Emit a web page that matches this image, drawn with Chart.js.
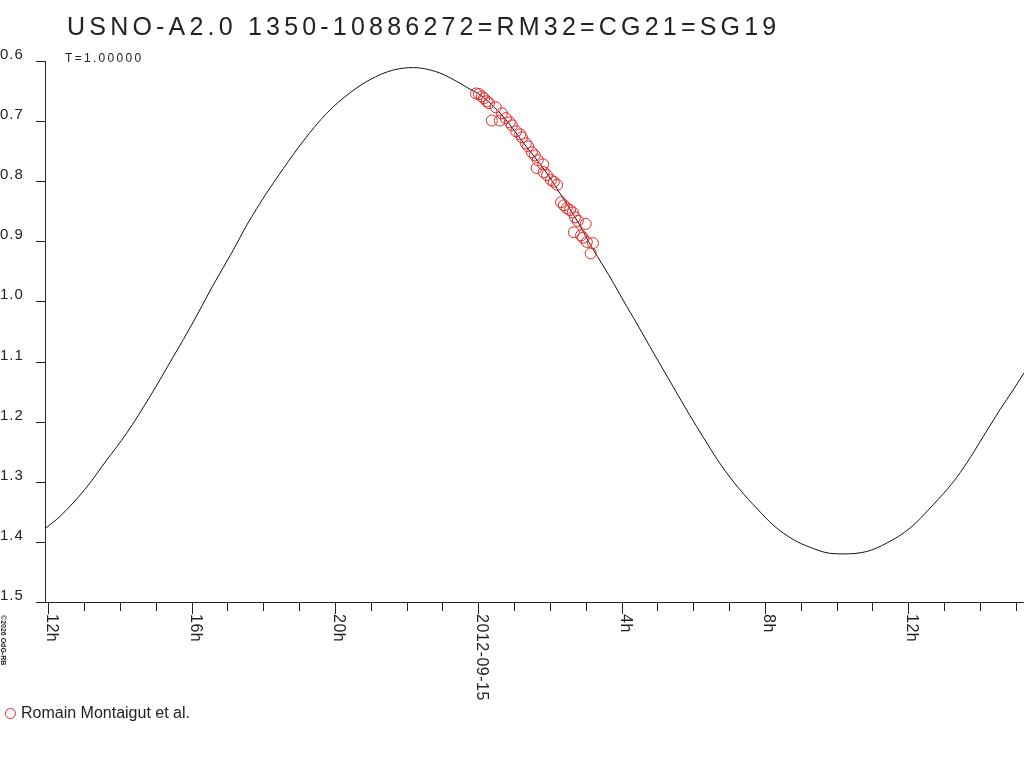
<!DOCTYPE html>
<html>
<head>
<meta charset="utf-8">
<script src="https://cdn.jsdelivr.net/npm/chart.js@4.4.0/dist/chart.umd.min.js"></script>
<style>
html,body{margin:0;padding:0;background:#fff;}
#wrap{width:1024px;height:768px;position:relative;}
</style>
</head>
<body>
<div id="wrap"><canvas id="c" width="1024" height="768"></canvas></div>
<script>
// ---- data (hours relative to 2012-09-15 00:00 UT, magnitude) ----
const titleText = "USNO-A2.0 1350-10886272=RM32=CG21=SG19";
const subtitleText = "T=1.00000";
const legendLabel = "Romain Montaigut et al.";
const copyrightText = "\u00a92026 OdG-RB";

const curveHours = [-12.07,-11.68,-10.98,-10.37,-9.81,-9.16,-8.51,-7.95,-7.40,-6.84,-6.46,-5.91,-5.44,-4.88,-4.23,-3.58,-3.02,-2.37,-1.81,-1.58,-1.07,-0.51,-0.14,0.00,0.66,1.35,1.81,2.28,2.81,3.16,3.49,3.77,4.14,4.33,4.79,5.07,5.44,5.91,6.28,6.75,7.30,7.77,8.23,8.79,9.26,9.81,10.19,10.84,11.40,12.05,12.70,13.26,13.63,14.09,14.56,14.93,15.23];
const curveMag = [1.377,1.358,1.313,1.264,1.219,1.158,1.092,1.034,0.973,0.915,0.873,0.820,0.779,0.733,0.687,0.653,0.631,0.615,0.611,0.612,0.620,0.637,0.650,0.654,0.690,0.743,0.778,0.820,0.871,0.909,0.941,0.969,1.008,1.027,1.075,1.104,1.142,1.190,1.226,1.270,1.313,1.344,1.372,1.396,1.409,1.419,1.420,1.416,1.402,1.377,1.338,1.300,1.269,1.225,1.180,1.147,1.119];

const obsHours = [-0.06,0.02,0.10,0.16,0.24,0.30,0.38,0.49,0.60,0.66,0.77,0.88,0.94,1.06,1.17,1.22,1.33,1.39,1.50,1.58,1.66,1.63,1.81,1.83,1.92,2.03,2.11,2.20,2.31,2.39,2.47,2.56,2.64,2.70,2.78,3.00,2.67,2.87,2.92,3.03,3.20,3.14];
const obsMag = [0.654,0.655,0.659,0.662,0.667,0.670,0.699,0.677,0.699,0.687,0.695,0.702,0.707,0.717,0.722,0.727,0.737,0.742,0.752,0.757,0.765,0.778,0.772,0.785,0.790,0.798,0.801,0.806,0.835,0.840,0.845,0.848,0.852,0.860,0.866,0.871,0.885,0.890,0.894,0.901,0.903,0.920];

const xMajorTicks = [-12,-8,-4,0,4,8,12];
const xMajorLabels = ["12h","16h","20h","2012-09-15","4h","8h","12h"];
const xMinorFirst = -12, xMinorLast = 15;
const yTicks = [0.6,0.7,0.8,0.9,1.0,1.1,1.2,1.3,1.4,1.5];
const yTickLabels = ["0.6","0.7","0.8","0.9","1.0","1.1","1.2","1.3","1.4","1.5"];

const xMin = -12.09, xMax = 15.23, yMin = 0.6, yMax = 1.5;

const FONT = '"Liberation Sans", Arial, sans-serif';
const AXIS = '#222';
const RED = 'rgb(232,40,40)';

const curveData = curveHours.map((h,i)=>({x:h,y:curveMag[i]}));
const obsData = obsHours.map((h,i)=>({x:h,y:obsMag[i]}));

const decor = {
  id:'decor',
  afterDraw(chart){
    const ctx = chart.ctx, xs = chart.scales.x, ys = chart.scales.y;
    const ca = chart.chartArea;
    ctx.save();
    ctx.strokeStyle = AXIS; ctx.lineWidth = 1;
    // axis lines
    ctx.beginPath();
    ctx.moveTo(36, ca.bottom+0.5); ctx.lineTo(1024, ca.bottom+0.5);
    ctx.moveTo(ca.left+0.5, ca.top); ctx.lineTo(ca.left+0.5, ca.bottom);
    ctx.stroke();
    // y ticks
    ctx.beginPath();
    yTicks.forEach(v=>{
      const py = Math.round(ys.getPixelForValue(v))+0.5;
      ctx.moveTo(36, py); ctx.lineTo(ca.left, py);
    });
    // x ticks (hourly, longer at labelled hours)
    for(let h=xMinorFirst; h<=xMinorLast; h++){
      const px = Math.round(xs.getPixelForValue(h))+0.5;
      const major = xMajorTicks.indexOf(h) >= 0;
      ctx.moveTo(px, ca.bottom); ctx.lineTo(px, ca.bottom + (major?12:9));
    }
    ctx.stroke();
    ctx.fillStyle = '#222';
    // y labels
    ctx.font = '15px ' + FONT;
    ctx.letterSpacing = '1px';
    ctx.textAlign = 'left'; ctx.textBaseline = 'alphabetic';
    yTicks.forEach((v,i)=>{
      const py = ys.getPixelForValue(v);
      ctx.fillText(yTickLabels[i], 0, py - 2);
    });
    // x labels rotated clockwise
    ctx.font = '16px ' + FONT;
    ctx.letterSpacing = '0.5px';
    xMajorTicks.forEach((h,i)=>{
      const px = Math.round(xs.getPixelForValue(h));
      ctx.save();
      ctx.translate(px - 1, ca.bottom + 12);
      ctx.rotate(Math.PI/2);
      ctx.textAlign = 'left'; ctx.textBaseline = 'alphabetic';
      ctx.fillText(xMajorLabels[i], 0, 0);
      ctx.restore();
    });
    // copyright
    ctx.save();
    ctx.font = 'bold 7px ' + FONT;
    ctx.letterSpacing = '0px';
    ctx.translate(1, 615);
    ctx.rotate(Math.PI/2);
    ctx.fillText(copyrightText, 0, 0);
    ctx.restore();
    // title
    ctx.font = '25px ' + FONT;
    ctx.letterSpacing = '4.2px';
    ctx.fillText(titleText, 67, 35);
    ctx.font = '12px ' + FONT;
    ctx.letterSpacing = '2.3px';
    ctx.fillText(subtitleText, 65, 62);
    // legend
    ctx.letterSpacing = '0px';
    ctx.strokeStyle = RED; ctx.lineWidth = 1;
    ctx.beginPath(); ctx.arc(10.5, 713.5, 5, 0, Math.PI*2); ctx.stroke();
    ctx.fillStyle = '#222';
    ctx.font = '16px ' + FONT;
    ctx.fillText(legendLabel, 21, 718);
    ctx.restore();
  }
};

new Chart(document.getElementById('c'), {
  type:'scatter',
  data:{
    datasets:[
      {label:'model', data:curveData, showLine:true, borderColor:'#111', borderWidth:1,
       pointRadius:0, cubicInterpolationMode:'monotone', fill:false, order:2},
      {label:legendLabel, data:obsData, showLine:false, pointRadius:5.5, pointStyle:'circle',
       borderColor:RED, backgroundColor:'rgba(0,0,0,0)', borderWidth:1, order:1}
    ]
  },
  options:{
    responsive:false, animation:false, devicePixelRatio:1,
    layout:{autoPadding:false, padding:{left:45, top:61, right:0, bottom:166}},
    plugins:{legend:{display:false}, title:{display:false}, tooltip:{enabled:false}},
    scales:{
      x:{type:'linear', min:xMin, max:xMax, display:false},
      y:{type:'linear', min:yMin, max:yMax, reverse:true, display:false}
    }
  },
  plugins:[decor]
});
</script>
</body>
</html>
